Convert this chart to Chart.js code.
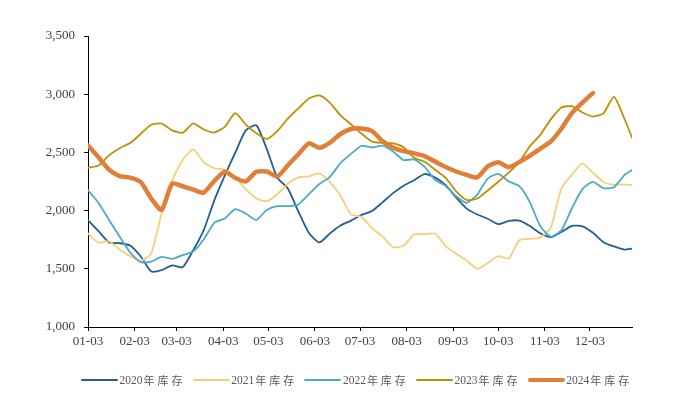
<!DOCTYPE html>
<html>
<head>
<meta charset="utf-8">
<script src="https://cdn.jsdelivr.net/npm/chart.js@4.4.0/dist/chart.umd.min.js"></script>
<style>
  html, body { margin: 0; padding: 0; background: #fff; }
  #wrap { position: relative; width: 681px; height: 419px; }
  #legend {
    position: absolute; left: 81px; top: 372px; height: 16px;
    display: flex; align-items: center;
    font-family: "Liberation Serif", "Noto Sans CJK SC", serif;
    font-size: 11.5px; color: #595959;
  }
  .lg-item { display: flex; align-items: center; width: 111.7px; }
  .lg-line { width: 37px; margin-right: 1.5px; }
  .lg-cjk { font-family: "Noto Sans CJK SC", sans-serif; font-size: 11px; letter-spacing: 3px; margin-left: 1px; }
</style>
</head>
<body>
<div id="wrap">
  <canvas id="chart"></canvas>
  <div id="legend"></div>
</div>
<script>
// ── DATA ─────────────────────────────────────────
// day offset from 01-03 (weekly samples, last point = 12-31)
const DAYS = [0,7,14,21,28,35,42,49,56,63,70,77,84,91,98,105,112,119,126,133,
  140,147,154,161,168,175,182,189,196,203,210,217,224,231,238,245,252,259,266,
  273,280,287,294,301,308,315,322,329,336,343,350,357,362];

const TICK_DAYS   = [0,31,59,90,120,151,181,212,243,273,304,334];
const TICK_LABELS = ["01-03","02-03","03-03","04-03","05-03","06-03",
                     "07-03","08-03","09-03","10-03","11-03","12-03"];

const SERIES_NAMES = ["2020年库存","2021年库存","2022年库存","2023年库存","2024年库存"];

const S2020 = [1918,1823,1727,1720,1700,1608,1478,1488,1529,1513,1659,1833,2086,2300,
  2498,2689,2733,2528,2283,2190,1992,1807,1727,1804,1872,1914,1963,1996,2071,2150,
  2214,2261,2314,2283,2219,2112,2017,1967,1930,1884,1911,1914,1868,1805,1772,1816,
  1869,1865,1809,1729,1692,1665,1673];
const S2021 = [1803,1724,1737,1665,1609,1568,1630,1978,2257,2434,2526,2415,2364,2353,
  2282,2183,2105,2081,2141,2232,2286,2295,2319,2245,2129,1967,1946,1849,1778,1686,
  1698,1796,1798,1803,1695,1630,1572,1500,1548,1608,1590,1745,1758,1768,1856,2191,
  2309,2406,2326,2246,2222,2226,2219];
const S2022 = [2176,2066,1920,1778,1641,1557,1562,1602,1585,1617,1649,1751,1895,1933,
  2013,1975,1919,2006,2038,2038,2053,2141,2228,2290,2408,2487,2556,2542,2558,2508,
  2434,2440,2375,2262,2212,2123,2067,2137,2275,2316,2250,2210,2073,1865,1777,1830,
  2020,2185,2246,2192,2201,2306,2348];
const S2023 = [2368,2387,2474,2536,2580,2658,2738,2748,2689,2668,2750,2697,2671,2720,
  2837,2739,2665,2616,2683,2791,2878,2963,2989,2926,2819,2742,2661,2593,2582,2577,
  2544,2454,2419,2351,2281,2165,2091,2104,2173,2248,2326,2415,2553,2651,2784,2886,
  2897,2843,2808,2836,2977,2789,2627];
const S2024 = [2560,2458,2352,2297,2284,2246,2105,2005,2233,2209,2180,2154,2254,2334,
  2281,2251,2333,2336,2292,2389,2484,2578,2539,2584,2658,2701,2705,2683,2597,2541,
  2511,2492,2468,2421,2374,2336,2307,2285,2380,2415,2373,2417,2470,2532,2594,2703,
  2837,2927,3010];

const COLORS = ["#255e91", "#f5cf7a", "#4bacc6", "#bf9000", "#e07f38"];
const WIDTHS = [1.8, 1.8, 1.8, 1.8, 4.5];

// ── CHART ────────────────────────────────────────

const toPoints = arr => arr.map((v, i) => ({ x: DAYS[i], y: v }));
const ALL = [S2020, S2021, S2022, S2023, S2024];

const datasets = ALL.map((s, i) => ({
  label: SERIES_NAMES[i],
  data: toPoints(s),
  borderColor: COLORS[i],
  borderWidth: WIDTHS[i],
  pointRadius: 0,
  tension: 0.2,
  borderJoinStyle: "round",
  borderCapStyle: "round",
  fill: false,
  order: i === 4 ? 0 : 5 - i,
}));

const axisFont = { family: "'Liberation Serif', 'Times New Roman', serif", size: 13 };

new Chart(document.getElementById("chart"), {
  type: "line",
  data: { datasets },
  options: {
    responsive: true,
    maintainAspectRatio: false,
    animation: false,
    layout: { padding: { left: 0, top: 36, right: 49, bottom: 66 } },
    plugins: { legend: { display: false }, tooltip: { enabled: false } },
    scales: {
      x: {
        type: "linear",
        min: 0,
        max: 362,
        afterBuildTicks: axis => { axis.ticks = TICK_DAYS.map(v => ({ value: v })); },
        afterFit: axis => { axis.height = 26; },
        grid: { drawOnChartArea: false, drawTicks: true, tickLength: 4, color: "#000" },
        border: { display: true, color: "#000", width: 1 },
        ticks: {
          autoSkip: false,
          maxRotation: 0,
          padding: 3,
          color: "#404040",
          font: axisFont,
          callback: v => TICK_LABELS[TICK_DAYS.indexOf(v)],
        },
      },
      y: {
        min: 1000,
        max: 3500,
        afterFit: axis => { axis.width = 88; },
        grid: { drawOnChartArea: false, drawTicks: true, tickLength: 4, color: "#000" },
        border: { display: true, color: "#000", width: 1 },
        ticks: {
          stepSize: 500,
          padding: 9,
          color: "#404040",
          font: axisFont,
          callback: v => v.toLocaleString("en-US"),
        },
      },
    },
  },
});

// ── LEGEND ───────────────────────────────────────

const legend = document.getElementById("legend");
SERIES_NAMES.forEach((name, i) => {
  const item = document.createElement("div");
  item.className = "lg-item";
  const h = i === 4 ? 4 : 2;
  item.innerHTML = `
    <span class="lg-line" style="height:${h}px;background:${COLORS[i]};border-radius:${h / 2}px"></span>
    <span>${name.slice(0, 4)}</span><span class="lg-cjk">${name.slice(4)}</span>
  `;
  legend.appendChild(item);
});
</script>
</body>
</html>
